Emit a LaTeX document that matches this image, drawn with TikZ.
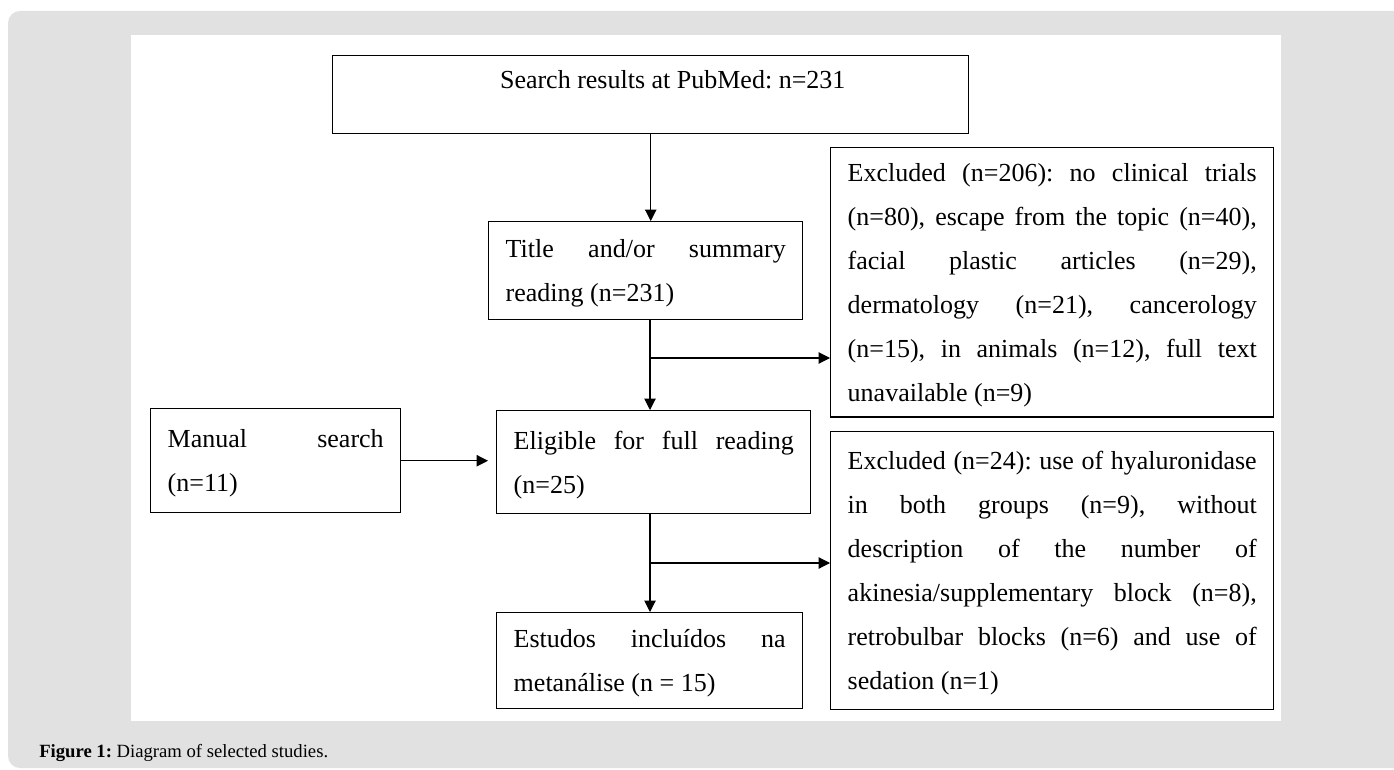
\documentclass[tikz,border=0pt]{standalone}
\usepackage{fontspec}
\setmainfont{Liberation Serif}
\usepackage{xcolor}
\usetikzlibrary{arrows.meta,positioning}
\definecolor{pagegray}{RGB}{225,225,225}
\frenchspacing

\begin{document}
\begin{tikzpicture}[
    x=0.75pt, y=-0.75pt,
    box/.style={rectangle, draw, line width=1.1pt, anchor=north west, align=justify, inner xsep=12.75pt, inner ysep=2pt, font=\fontsize{19.5}{33}\selectfont, execute at begin node=\strut, execute at end node=\strut},
    arrow/.style={-{Triangle[length=8.5pt, width=8.5pt]}, line width=0.8pt}
]
\clip (0,0) rectangle (1394,770);
\fill[pagegray, rounded corners=9pt] (8,11) rectangle (1420,768);
\fill[white] (131,35) rectangle (1281,721);

\node[box, align=center, inner ysep=0pt, text height=24.75pt, text depth=33.75pt, minimum width=477pt] (search) at (332,55) {\hspace*{33pt}Search results at PubMed: n=231};
\node[box, text width=210pt, minimum width=235.5pt, minimum height=73.5pt] (screen) at (488,221) {Title and/or summary\linebreak reading (n=231)};
\node[box, text width=306.75pt, minimum width=332.25pt, minimum height=199.5pt] (exscreen) at (830,147) {Excluded (n=206): no clinical trials\linebreak (n=80), escape from the topic (n=40),\linebreak facial plastic articles (n=29),\linebreak dermatology (n=21), cancerology\linebreak (n=15), in animals (n=12), full text\linebreak unavailable (n=9)};
\node[box, text width=162pt, minimum width=187.5pt, minimum height=78pt] (manual) at (150,408) {Manual search\linebreak (n=11)};
\node[box, text width=210pt, minimum width=235.5pt, minimum height=77.25pt] (full) at (496,410) {Eligible for full reading\linebreak (n=25)};
\node[box, text width=306.75pt, minimum width=332.25pt, minimum height=208.5pt] (exfull) at (830,431) {Excluded (n=24): use of hyaluronidase\linebreak in both groups (n=9), without\linebreak description of the number of\linebreak akinesia/supplementary block (n=8),\linebreak retrobulbar blocks (n=6) and use of\linebreak sedation (n=1)};
\node[box, text width=204pt, minimum width=229.5pt, minimum height=72pt] (incl) at (496,612) {Estudos incluídos na\linebreak metanálise (n = 15)};
\node[anchor=base west, inner sep=0pt, font=\fontsize{14}{16}\selectfont] (caption) at (39,757) {\textbf{Figure 1:} Diagram of selected studies.};

\coordinate (split1) at (650,358);
\coordinate (split2) at (650,563);
\draw[arrow] (search.south) -- (search.south |- screen.north);
\draw[arrow] (screen.south -| split1) -- (full.north -| split1);
\draw[arrow] (split1) -- (split1 -| exscreen.west);
\draw[arrow, shorten >=6pt] (manual.east) -- (manual.east -| full.west);
\draw[arrow] (full.south -| split2) -- (incl.north -| split2);
\draw[arrow] (split2) -- (split2 -| exfull.west);
\end{tikzpicture}
\end{document}
